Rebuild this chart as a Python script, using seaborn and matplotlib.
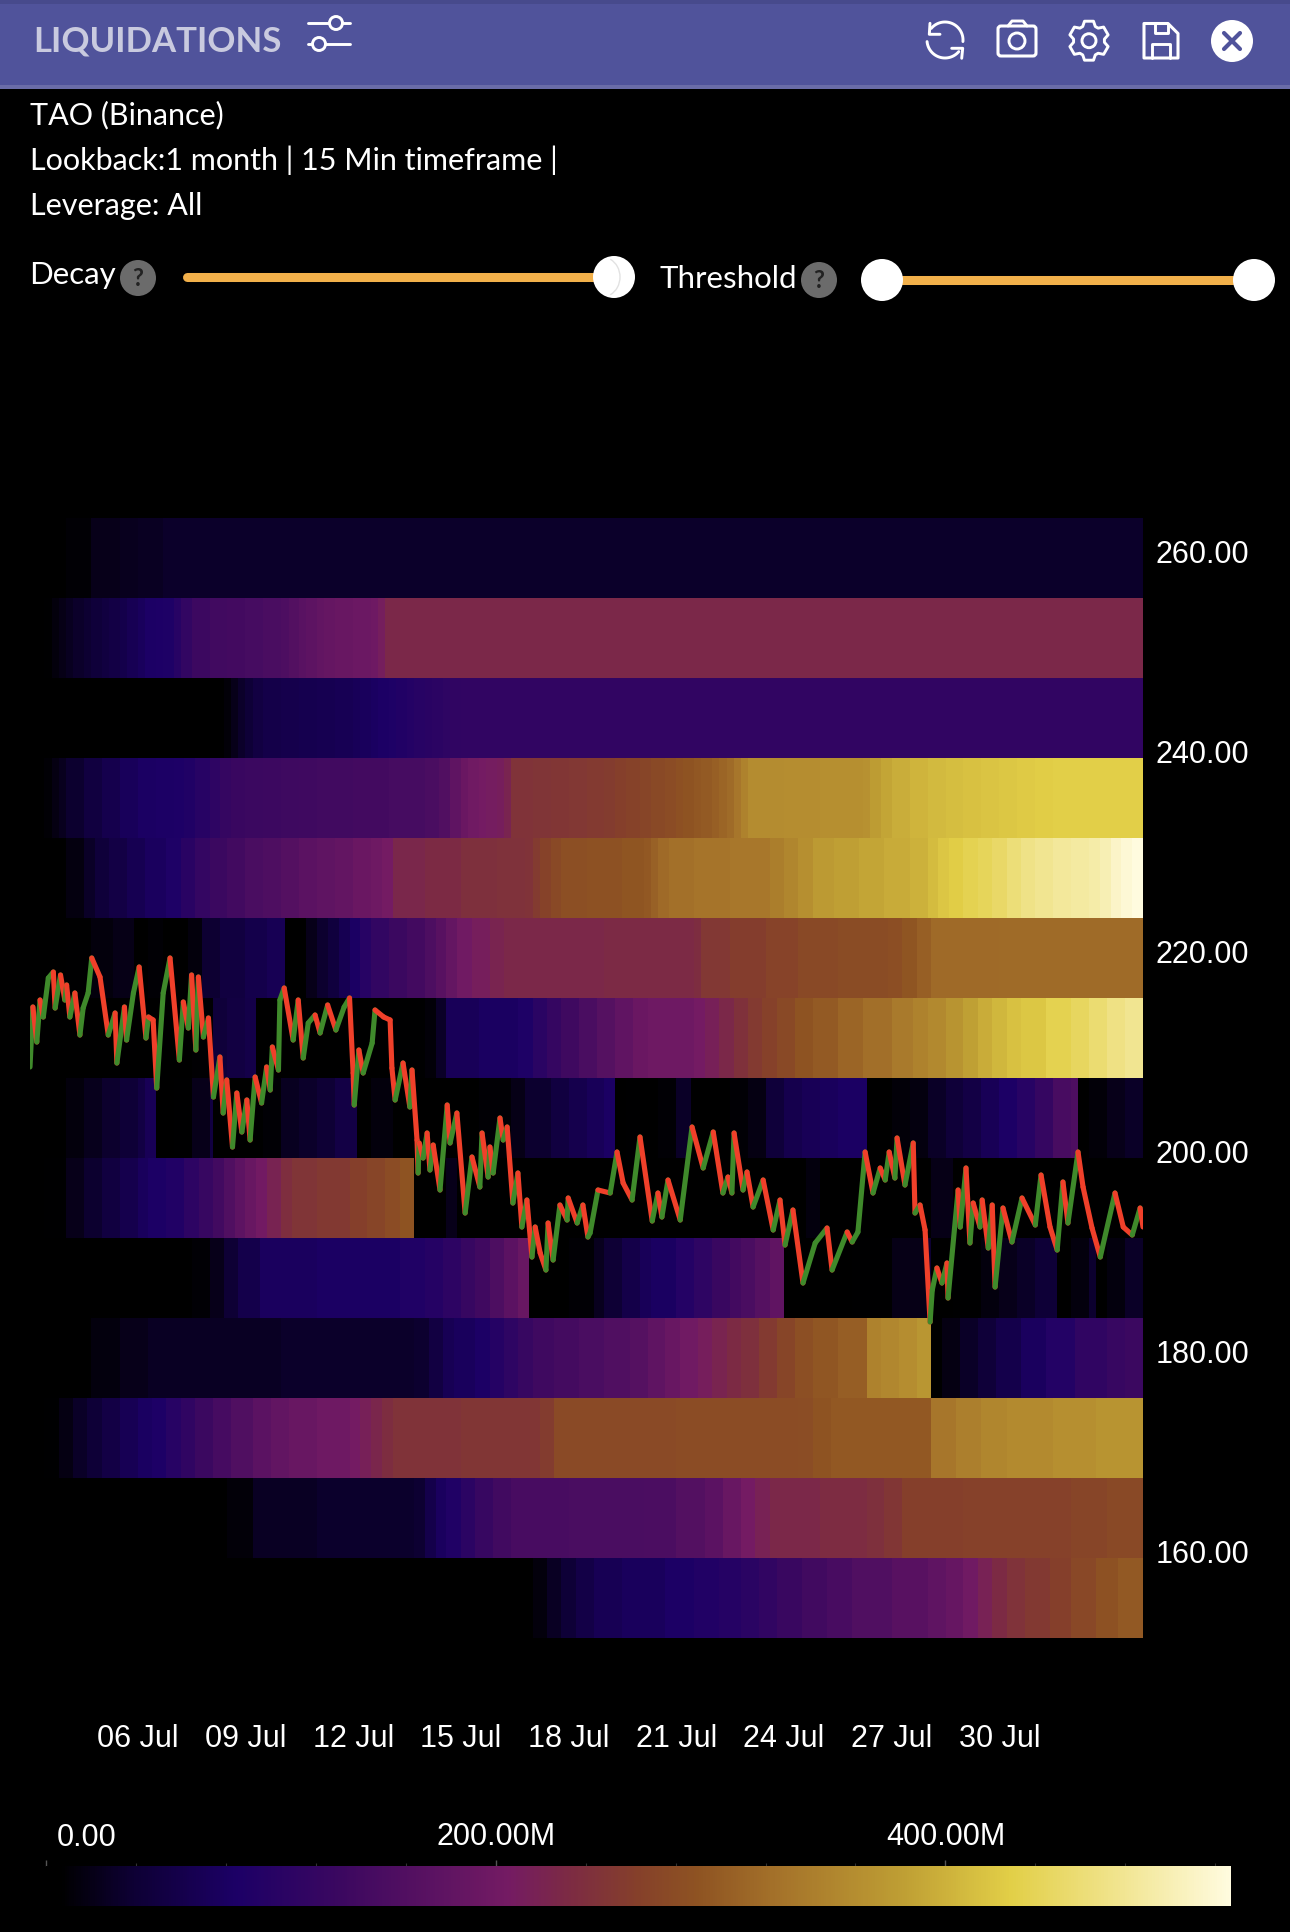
import numpy as np
import matplotlib
matplotlib.use('Agg')
import matplotlib.pyplot as plt
import seaborn as sns
from matplotlib.colors import LinearSegmentedColormap
from matplotlib.collections import LineCollection
from matplotlib.patches import Circle, Rectangle, FancyBboxPatch, Polygon, Arc

W, H = 1290, 1932

# liquidation level in millions per price band, as (day since 03 Jul, level from that day on)
band_259 = [(0, 0), (.2, 3), (.5, 5), (1, 10), (1.75, 22), (2.5, 25), (3, 27), (3.75, 32)]
band_251 = [(0, 0), (.2, 4), (.4, 8), (.6, 14), (.8, 20), (1, 26), (1.25, 32), (1.5, 38), (1.75, 45), (2, 50), (2.25, 55), (2.5, 60),
            (2.75, 68), (3, 76), (3.25, 84), (3.5, 86), (3.75, 88), (4, 100), (4.25, 118), (4.5, 132), (5, 138), (5.5, 142),
            (6, 146), (6.5, 150), (7, 154), (7.25, 162), (7.5, 170), (7.75, 176), (8, 182), (8.25, 186), (8.5, 190), (9, 194),
            (9.5, 198), (9.7, 210), (9.9, 228)]
band_243 = [(0, 0), (5.2, 4), (5.4, 12), (5.6, 22), (5.8, 32), (6, 42), (6.2, 52), (6.5, 58), (7, 61), (7.5, 63), (8, 65),
            (8.5, 68), (9, 72), (9.25, 76), (9.5, 80), (9.75, 84), (10, 88), (10.25, 92), (10.5, 96), (10.75, 100), (11, 104),
            (11.25, 108), (11.5, 112), (11.75, 114), (12, 116)]
band_235 = [(0, 0), (.2, 4), (.4, 10), (.6, 18), (.8, 25), (1, 36), (1.5, 50), (2, 62), (2.5, 74), (3, 82), (3.5, 84), (4, 86), (4.3, 90),
            (4.6, 100), (5, 112), (5.3, 122), (5.6, 128), (6, 130), (6.5, 132), (7, 134), (7.5, 136), (8, 138), (9, 142),
            (10, 146), (11, 150), (11.4, 160), (11.7, 178), (12, 192), (12.25, 200), (12.5, 205), (12.75, 208), (13, 212),
            (13.2, 222), (13.4, 245), (14, 248), (14.5, 250), (15, 252), (15.5, 255), (16, 258), (16.3, 262), (16.6, 266),
            (17, 270), (17.3, 275), (17.7, 280), (18, 286), (18.25, 290), (18.5, 294), (18.75, 298), (19, 304), (19.2, 310),
            (19.4, 318), (19.6, 330), (19.8, 345), (20, 358), (21, 360), (22, 362), (23.2, 365), (23.4, 378), (23.7, 388),
            (24, 396), (24.5, 403), (25, 408), (25.5, 412), (26, 415), (26.5, 418), (27, 422), (27.5, 425), (28, 428), (28.5, 430)]
band_227 = [(0, 0), (.2, 3), (.5, 6), (1, 16), (1.5, 30), (1.8, 45), (2.25, 55), (2.75, 66), (3.25, 78), (3.8, 88), (4.2, 104), (4.6, 120),
            (5, 130), (5.5, 140), (6, 150), (6.5, 156), (7, 164), (7.5, 172), (8, 178), (8.5, 184), (9, 192), (9.5, 198),
            (9.8, 205), (10.1, 226), (11, 232), (12, 240), (13, 243), (13.8, 246), (14, 256), (14.2, 266), (14.5, 276), (14.8, 285),
            (15.5, 288), (16.5, 292), (17.1, 296), (17.3, 306), (17.5, 316), (17.8, 324), (18.5, 328), (19.5, 332), (20.6, 340),
            (21, 350), (21.4, 362), (21.8, 375), (22.4, 381), (23.1, 388), (23.8, 394), (24.5, 400), (25, 410), (25.3, 420),
            (25.6, 428), (26, 436), (26.4, 442), (26.8, 450), (27.2, 462), (27.6, 472), (28, 478), (28.5, 484), (29, 488),
            (29.5, 493), (29.8, 500), (30.1, 512), (30.4, 520), (30.7, 527)]
band_219 = [(0, 0), (.5, 4), (1, 8), (1.7, 14), (2.3, 20), (2.9, 5), (3.3, 10), (3.7, 0), (4, 6), (4.4, 14), (4.8, 38), (5.3, 50),
            (6, 60), (6.6, 68), (7.1, 0), (7.4, 6), (7.7, 22), (8, 36), (8.3, 48), (8.6, 66), (8.9, 82), (9.2, 100), (9.5, 118),
            (10, 130), (10.5, 142), (11, 155), (11.3, 168), (11.6, 185), (11.9, 200), (12.3, 212), (12.8, 222), (13.2, 228),
            (16, 231), (18.5, 236), (18.7, 252), (19.5, 260), (20.5, 268), (21.4, 275), (22.5, 279), (23.9, 283), (24.3, 292),
            (24.7, 304), (25.1, 316), (27, 318)]
band_211 = [(0, 0), (1, 5), (2, 3), (3.5, 6), (4.5, 9), (5.1, 45), (5.5, 52), (6, 58), (6.3, 0), (7, 3), (8, 6), (9, 4), (10, 8),
            (11, 12), (11.3, 30), (11.6, 72), (12.5, 80), (13.6, 88), (14, 105), (14.4, 122), (14.8, 135), (15.3, 150), (15.8, 165),
            (16.3, 180), (16.8, 192), (17.2, 198), (18.5, 205), (18.8, 215), (19.2, 228), (19.6, 242), (20, 255), (20.4, 265),
            (20.8, 276), (21.3, 290), (21.8, 298), (22.5, 310), (23.2, 322), (24, 335), (24.6, 345), (25, 355), (25.5, 368),
            (26, 382), (26.4, 395), (26.8, 405), (27.2, 415), (27.6, 422), (28.3, 435), (29, 445), (29.5, 458), (30, 470), (30.5, 478)]
band_203 = [(0, 0), (.2, 3), (.5, 6), (1, 14), (1.5, 24), (2, 34), (2.5, 42), (3, 54), (3.25, 70), (3.5, 0), (4, 8), (4.5, 22), (5, 50),
            (5.1, 0), (5.5, 4), (6, 6), (6.5, 10), (7, 26), (7.5, 32), (8, 40), (8.5, 55), (9.07, 0), (9.5, 14), (10.1, 0),
            (11.5, 4), (12.5, 10), (13.4, 20), (13.8, 35), (14.5, 50), (15, 62), (15.5, 72), (16, 82), (16.3, 0), (16.6, 8),
            (17, 5), (17.5, 10), (18, 30), (18.36, 0), (19, 4), (19.5, 10), (20, 18), (20.5, 45), (21, 62), (21.5, 70), (22, 76),
            (22.5, 82), (23.26, 0), (23.5, 6), (24, 12), (24.5, 16), (25, 30), (25.5, 44), (26, 55), (26.5, 70), (27, 84),
            (27.5, 100), (28, 122), (28.5, 148), (29, 156), (29.2, 0), (29.5, 12), (30, 22), (30.5, 30)]
band_195 = [(0, 0), (.2, 4), (.4, 8), (1, 22), (1.5, 36), (2, 50), (2.5, 62), (3, 76), (3.3, 84), (3.8, 92), (4.3, 110), (4.7, 125), (5.1, 140),
            (5.4, 158), (5.7, 175), (6, 190), (6.3, 203), (6.6, 220), (7, 238), (7.3, 248), (8, 254), (8.9, 262), (9.4, 270),
            (9.9, 280), (10.3, 290), (10.75, 0), (11.56, 22), (11.9, 0), (13, 6), (17, 4), (21.6, 15), (22, 3), (25.07, 20), (25.7, 2)]
band_187 = [(0, 0), (3.5, 4), (4.5, 10), (5, 22), (5.4, 40), (5.8, 60), (6.4, 78), (8, 82), (10.3, 90), (11, 98), (11.5, 110), (12, 124),
            (12.4, 137), (12.8, 155), (13.2, 172), (13.6, 190), (13.95, 0), (14.5, 6), (15, 10), (15.7, 25), (16, 40), (16.5, 58),
            (17, 72), (17.3, 80), (18, 96), (18.5, 112), (19, 128), (19.5, 142), (19.8, 150), (20.2, 165), (20.6, 180), (21, 0),
            (22, 4), (22.9, 8), (24, 20), (25, 38), (25.07, 0), (25.75, 8), (26.5, 15), (27, 22), (27.5, 30), (28, 42), (28.6, 0),
            (29, 15), (29.5, 35), (29.75, 0), (30, 15), (30.5, 30)]
band_179 = [(0, 0), (1.75, 15), (2.5, 22), (3.3, 28), (7, 32), (10.7, 36), (11.1, 52), (11.5, 68), (11.8, 76), (12.4, 84), (12.8, 98),
            (13.2, 112), (13.6, 124), (14, 135), (14.6, 143), (15.3, 150), (16, 158), (16.7, 165), (17.2, 178), (17.7, 190),
            (18.1, 200), (18.6, 212), (19, 222), (19.4, 232), (19.8, 240), (20.3, 255), (20.8, 270), (21.3, 285), (21.8, 293),
            (22.5, 302), (23.26, 318), (23.3, 345), (23.7, 352), (24.2, 360), (24.7, 370), (25.07, 3), (25.4, 18), (25.9, 30),
            (26.4, 44), (26.9, 60), (27.6, 78), (28.3, 95), (29.1, 115), (30, 125), (30.5, 130)]
band_171 = [(0, 0), (.2, 4), (.4, 8), (.8, 18), (1.2, 30), (1.6, 42), (2, 55), (2.5, 68), (3, 80), (3.4, 86), (3.8, 100), (4.2, 115), (4.6, 130),
            (5.1, 145), (5.6, 158), (6.2, 172), (6.7, 182), (7.2, 190), (8, 198), (8.9, 205), (9.2, 215), (9.5, 225), (9.8, 236),
            (10.1, 245), (12, 250), (14.2, 258), (14.6, 277), (18, 280), (21.4, 282), (21.8, 290), (22.3, 296), (25.07, 298),
            (25.1, 330), (25.8, 342), (26.5, 350), (27.2, 356), (28.5, 362), (29.7, 368)]
band_163 = [(0, 0), (5, 6), (5.55, 12), (6.2, 28), (8, 33), (10.7, 38), (11, 60), (11.3, 78), (11.6, 90), (12, 108), (12.4, 125), (12.9, 138),
            (13.4, 148), (15, 150), (17.1, 152), (18, 162), (18.8, 172), (19.3, 190), (19.8, 205), (20.2, 218), (20.6, 228),
            (22, 234), (23.3, 240), (23.8, 250), (24.3, 262), (26, 265), (29, 270), (30, 275)]
band_155 = [(0, 0), (13.6, 6), (14, 14), (14.4, 28), (14.8, 42), (15.2, 56), (15.7, 68), (16.5, 76), (17.7, 84), (18.5, 92), (19.2, 98),
            (19.8, 105), (20.3, 116), (20.8, 128), (21.5, 138), (22.2, 148), (22.9, 158), (24, 168), (25, 178), (25.5, 188), (26, 200),
            (26.4, 218), (26.8, 232), (27.2, 244), (27.7, 254), (28.4, 262), (29, 274), (29.7, 288), (30.3, 297)]
band_147 = [(0, 3)]

bands = [band_259, band_251, band_243, band_235, band_227, band_219, band_211, band_203,
         band_195, band_187, band_179, band_171, band_163, band_155, band_147]

# price path, turning points
price_days = [0, .08, .19, .28, .37, .51, .65, .70, .85, .97, 1.02, 1.11, 1.25, 1.39, 1.48, 1.62, 1.72, 1.95, 2.18, 2.37,
              2.42, 2.63, 2.69, 2.88, 3.04, 3.23, 3.30, 3.43, 3.53, 3.71, 3.90, 4.16, 4.27, 4.41, 4.50, 4.62, 4.69, 4.83, 4.97, 5.11,
              5.29, 5.38, 5.48, 5.64, 5.76, 5.90, 6.04, 6.13, 6.27, 6.45, 6.59, 6.69, 6.75, 6.92, 6.96, 7.08, 7.33, 7.47, 7.61, 7.75,
              7.94, 8.08, 8.29, 8.52, 8.75, 8.90, 9.00, 9.03, 9.16, 9.28, 9.53, 9.61, 9.85, 10.03, 10.08, 10.17, 10.39, 10.58, 10.64, 10.78,
              10.81, 10.84, 10.95, 11.06, 11.14, 11.23, 11.42, 11.62, 11.70, 11.89, 12.12, 12.31, 12.53, 12.59, 12.76, 12.81, 12.90, 13.09, 13.18, 13.29,
              13.45, 13.59, 13.70, 13.84, 13.98, 14.07, 14.21, 14.37, 14.43, 14.57, 14.76, 14.96, 14.99, 15.24, 15.40, 15.54, 15.60, 15.82, 16.16, 16.35,
              16.52, 16.77, 16.99, 17.33, 17.49, 17.60, 17.77, 18.11, 18.44, 18.75, 19.03, 19.30, 19.44, 19.55, 19.61, 19.86, 19.97, 20.14, 20.42, 20.70,
              20.89, 21.03, 21.25, 21.53, 21.87, 22.20, 22.34, 22.76, 22.90, 23.06, 23.26, 23.48, 23.68, 23.82, 23.93, 24.09, 24.15, 24.37, 24.60, 24.65,
              24.79, 24.93, 25.07, 25.13, 25.26, 25.40, 25.54, 25.57, 25.85, 25.91, 26.07, 26.18, 26.27, 26.46, 26.52, 26.69, 26.80, 26.88, 27.10, 27.35,
              27.63, 28.00, 28.16, 28.41, 28.61, 28.77, 28.91, 29.19, 29.33, 29.58, 29.81, 30.22, 30.45, 30.70, 30.92, 31.00]
price_vals = [208.4, 214.4, 210.9, 215.1, 213.4, 217.3, 217.9, 214.3, 217.6, 215.1, 216.6, 213.4, 215.8, 211.6, 214.3, 215.8, 219.3, 217.4, 211.6, 213.8,
              208.8, 214.4, 211.1, 215.8, 218.4, 211.3, 213.4, 213.1, 206.3, 215.8, 219.3, 209.1, 214.9, 212.3, 217.6, 210.1, 217.4, 211.4, 213.3, 205.4,
              209.4, 203.8, 207.1, 200.4, 205.8, 201.9, 205.1, 201.1, 207.4, 204.8, 208.4, 206.1, 210.4, 208.1, 215.1, 216.3, 211.1, 215.1, 209.3, 212.8,
              213.6, 211.8, 214.6, 212.1, 214.4, 215.3, 207.8, 204.6, 210.1, 207.8, 210.8, 214.1, 213.4, 213.1, 208.3, 205.1, 208.8, 204.4, 208.1, 201.1,
              197.8, 200.8, 199.3, 201.8, 198.1, 200.6, 196.1, 204.6, 200.8, 203.8, 193.8, 199.4, 196.4, 201.8, 197.4, 200.4, 197.8, 203.3, 201.1, 202.4,
              194.8, 197.8, 192.4, 195.1, 189.4, 192.4, 189.8, 188.1, 192.8, 189.1, 194.6, 193.1, 195.3, 192.8, 194.6, 191.4, 191.8, 196.1, 195.8, 199.9,
              196.8, 195.1, 201.4, 193.0, 195.8, 193.4, 197.1, 193.1, 202.4, 198.3, 201.9, 195.8, 197.4, 195.8, 201.8, 196.1, 197.9, 194.4, 197.1, 192.1,
              195.1, 190.6, 194.1, 186.8, 190.8, 192.3, 188.1, 191.9, 190.9, 191.9, 199.9, 195.8, 198.3, 197.1, 199.9, 197.3, 201.3, 196.6, 200.8, 193.8,
              194.6, 192.1, 182.9, 186.1, 188.3, 186.8, 188.8, 185.3, 196.1, 192.4, 198.3, 190.8, 194.8, 192.4, 195.1, 190.3, 194.6, 186.4, 194.3, 190.9,
              195.3, 192.6, 197.6, 192.4, 190.1, 196.9, 192.8, 199.9, 196.4, 192.3, 189.4, 195.8, 192.4, 191.6, 194.3, 192.4]

price_ticks = [260, 240, 220, 200, 180, 160]
date_ticks = [3, 6, 9, 12, 15, 18, 21, 24, 27]
date_labels = ['06 Jul', '09 Jul', '12 Jul', '15 Jul', '18 Jul', '21 Jul', '24 Jul', '27 Jul', '30 Jul']
cbar_ticks = [0, 200, 400]
cbar_labels = ['', '200.00M', '400.00M']
cbar_minor = [40, 80, 120, 160, 240, 280, 320, 360, 440, 480, 520]

cmap_stops = [(0, '#000000'), (.012, '#000000'), (.07, '#0d0032'), (.16, '#1c0066'), (.25, '#3c0860'), (.39, '#741b63'),
              (.44, '#7c2a44'), (.50, '#85402a'), (.55, '#8e5322'), (.62, '#a5732a'), (.725, '#bf9f34'),
              (.815, '#e2cf47'), (.90, '#f0e38a'), (1, '#fffbdf')]
liq_cmap = LinearSegmentedColormap.from_list('liq', cmap_stops, N=512)

columns = np.arange(0, 31, 0.1)


def band_row(band):
    days = [p[0] for p in band]
    levels = np.array([p[1] for p in band], dtype=float)
    return levels[np.searchsorted(days, columns + 0.05, side='right') - 1]


def px_axes(fig, x0, y0, x1, y1, **kw):
    return fig.add_axes([x0 / W, 1 - y1 / H, (x1 - x0) / W, (y1 - y0) / H], **kw)


sns.set_theme(style='dark', rc={'figure.facecolor': 'black', 'axes.facecolor': 'black'})
plt.rcParams['font.family'] = ['Liberation Sans', 'DejaVu Sans']

fig = plt.figure(figsize=(W / 100, H / 100), dpi=100, facecolor='black')
ax = px_axes(fig, 30, 518, 1143, 1718)
cax = px_axes(fig, 46, 1866, 1231, 1906)

matrix = np.vstack([band_row(b) for b in bands])
sns.heatmap(matrix, ax=ax, cmap=liq_cmap, vmin=0, vmax=527, cbar_ax=cax,
            cbar_kws={'orientation': 'horizontal'}, xticklabels=False, yticklabels=False)

# colour bar
cbar = ax.collections[0].colorbar
cbar.outline.set_visible(False)
cax.xaxis.set_ticks_position('top')
cax.set_xticks(cbar_ticks)
cax.set_xticklabels(cbar_labels, color='white', fontsize=22)
cax.set_xticks(cbar_minor, minor=True)
cax.tick_params(axis='x', which='major', length=4, width=1, color='#555555', pad=6, bottom=False)
cax.tick_params(axis='x', which='minor', length=2.5, width=.8, color='#333333', bottom=False)
cax.annotate('0.00', xy=(0, 1), xycoords='axes fraction', xytext=(41, 28), textcoords='offset pixels',
             color='white', fontsize=22, ha='center', va='center')

# price overlay
pax = px_axes(fig, 30, 518, 1143, 1718, facecolor='none')
pax.set_xlim(0, 31)
pax.set_ylim(143.3, 263.3)
xs = np.array(price_days)
ys = np.array(price_vals)
segs = np.stack([np.column_stack([xs[:-1], ys[:-1]]), np.column_stack([xs[1:], ys[1:]])], axis=1)
seg_cols = ['#3f8a2b' if b >= a else '#f0402a' for a, b in zip(ys[:-1], ys[1:])]
pax.add_collection(LineCollection(segs, colors=seg_cols, linewidths=3.7, capstyle='round', joinstyle='round'))
pax.grid(False)
for s in pax.spines.values():
    s.set_visible(False)
pax.yaxis.tick_right()
pax.set_yticks(price_ticks)
pax.set_yticklabels([f'{p:.2f}' for p in price_ticks], color='white', fontsize=22)
pax.set_xticks(date_ticks)
pax.set_xticklabels(date_labels, color='white', fontsize=22)
pax.tick_params(axis='y', length=0, pad=9)
pax.tick_params(axis='x', length=0, pad=4.5)

# app chrome
ui = px_axes(fig, 0, 0, W, H, facecolor='none')
ui.set_xlim(0, W)
ui.set_ylim(H, 0)
ui.axis('off')
ui.set_zorder(5)
hdr = '#50539b'
ui.add_patch(Rectangle((0, 0), W, 88, color=hdr, lw=0))
ui.add_patch(Rectangle((0, 0), W, 4, color='#474a8c', lw=0))
ui.add_patch(Rectangle((0, 85), W, 4, color='#6a6ca8', lw=0))
ui.text(33, 42, 'LIQUIDATIONS', family='Lato', weight='bold', fontsize=25, color='#c9cadf', va='center')
ui.text(30, 115, 'TAO (Binance)', family='Lato', fontsize=22, color='white', va='center')
ui.text(30, 160, 'Lookback:1 month | 15 Min timeframe |', family='Lato', fontsize=22, color='white', va='center')
ui.text(30, 206, 'Leverage: All', family='Lato', fontsize=22, color='white', va='center')
ui.text(29, 275, 'Decay', family='Lato', fontsize=22.5, color='white', va='center')
ui.text(659, 279, 'Threshold', family='Lato', fontsize=22.5, color='white', va='center')
for cx, cy in [(138, 278), (819, 280)]:
    ui.add_patch(Circle((cx, cy), 18, color='#6b6b6b', lw=0))
    ui.text(cx, cy, '?', family='Lato', weight='bold', fontsize=17, color='#222222', ha='center', va='center')
track = '#f2b04a'
ui.plot([187, 600], [277, 277], color=track, lw=6.5, solid_capstyle='round')
ui.plot([882, 1254], [280, 280], color=track, lw=6.5, solid_capstyle='butt')
for cx, cy in [(614, 277), (882, 280), (1254, 280)]:
    ui.add_patch(Circle((cx, cy), 21, color='white', lw=0, zorder=4))
ui.add_patch(Arc((602, 277), 36, 40, theta1=-65, theta2=65, color='#e2e2e2', lw=1, zorder=5))

# header icons
ic = dict(color='white', lw=2.1, solid_capstyle='round', solid_joinstyle='round')
ui.plot([308, 350], [23, 23], **ic)
ui.plot([308, 350], [44, 44], **ic)
ui.add_patch(Circle((336, 23), 6.5, fc=hdr, ec='white', lw=2.1, zorder=4))
ui.add_patch(Circle((319, 44), 6.5, fc=hdr, ec='white', lw=2.1, zorder=4))

for t0, t1 in [(140, -5), (185, 320)]:
    th = np.deg2rad(np.linspace(t0, t1, 40))
    ui.plot(945 + 18 * np.cos(th), 40 - 18 * np.sin(th), **ic)
ui.plot([930, 929.3, 940], [23.3, 34.3, 34.3], **ic)
ui.plot([951.7, 962.7, 961.7], [48.3, 48.3, 58.3], **ic)

ui.add_patch(FancyBboxPatch((998, 26), 38, 30, boxstyle='round,pad=0,rounding_size=3', fc='none', ec='white', lw=2.2))
ui.plot([1008, 1012, 1023, 1027], [26, 21, 21, 26], **ic)
ui.add_patch(Circle((1017, 41), 8, fc='none', ec='white', lw=2.1))

gear = []
for a in range(-90, 270, 60):
    gear += [(a - 24, 15.5), (a - 13, 20), (a + 13, 20), (a + 24, 15.5)]
ui.add_patch(Polygon([(1089 + r * np.cos(np.deg2rad(a)), 40.7 + r * np.sin(np.deg2rad(a))) for a, r in gear],
                     closed=True, fc='none', ec='white', lw=2.1, joinstyle='round'))
ui.add_patch(Circle((1089, 40.7), 7, fc='none', ec='white', lw=2.1))

ui.add_patch(Polygon([(1144, 23.5), (1168, 23.5), (1178, 33.5), (1178, 58), (1144, 58)], closed=True, fc='none', ec='white', lw=2.2, joinstyle='round'))
ui.plot([1155, 1155, 1168, 1168], [23.5, 33, 33, 23.5], **ic)
ui.plot([1152, 1152, 1170, 1170], [58, 43.5, 43.5, 58], **ic)

ui.add_patch(Circle((1232, 41), 21, color='white', lw=0))
ui.plot([1224, 1240], [33, 49], color=hdr, lw=3, solid_capstyle='round')
ui.plot([1224, 1240], [49, 33], color=hdr, lw=3, solid_capstyle='round')

fig.savefig('out.png', dpi=100, facecolor='black')
